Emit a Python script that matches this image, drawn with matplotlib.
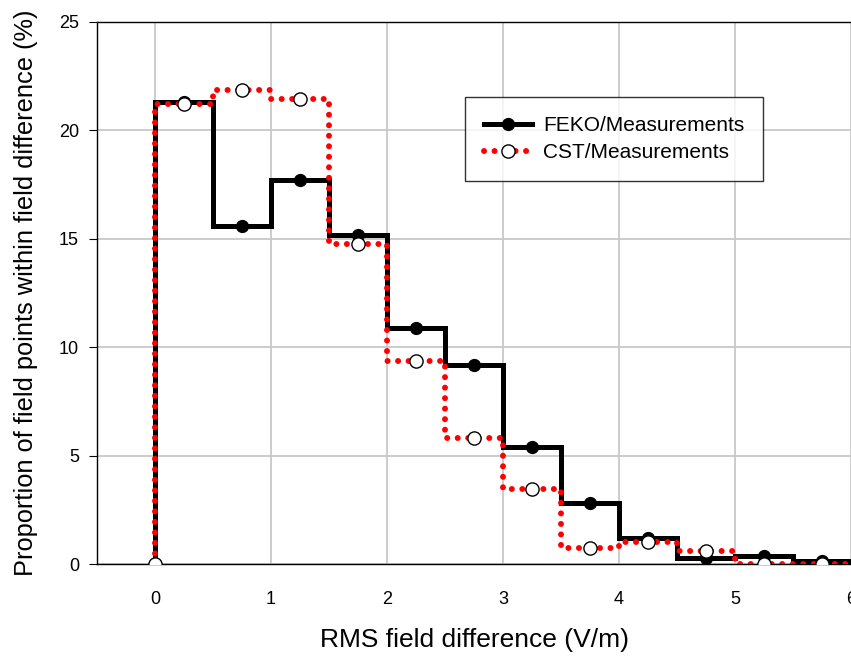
import numpy as np
import matplotlib
matplotlib.use("Agg")
import matplotlib.pyplot as plt

# bin edges (V/m) and proportion of points per bin (%)
edges = np.arange(0, 6.01, 0.5)
feko = [21.3, 15.6, 17.7, 15.2, 10.9, 9.2, 5.4, 2.8, 1.2, 0.28, 0.37, 0.14]
cst = [21.2, 21.85, 21.45, 14.75, 9.35, 5.8, 3.45, 0.75, 1.0, 0.62, 0.03, 0.03]

plt.rcParams["font.family"] = "Liberation Sans"


def step_xy(values):
    x = np.concatenate([[0.0], edges])
    y = np.concatenate([[0.0], values, [values[-1]]])
    return x, y


def marker_xy(values):
    centers = (edges[:-1] + edges[1:]) / 2
    return np.concatenate([[0.0], centers]), np.concatenate([[0.0], values])


fig = plt.figure(figsize=(8.51, 6.56), dpi=100)
ax = fig.add_axes([0.114, 0.140, 0.886, 0.8265])

x, y = step_xy(feko)
ax.plot(x, y, drawstyle="steps-post", color="black", linewidth=3.6,
        solid_joinstyle="miter", zorder=3)
mx, my = marker_xy(feko)
ax.plot(mx, my, linestyle="none", marker="o", markersize=8.5,
        color="black", zorder=4)

x, y = step_xy(cst)
ax.plot(x, y, drawstyle="steps-post", color="red", linewidth=4.3,
        linestyle=(0, (0.01, 1.75)), dash_capstyle="round", zorder=5)
mx, my = marker_xy(cst)
ax.plot(mx, my, linestyle="none", marker="o", markersize=9.5,
        markerfacecolor="white", markeredgecolor="black",
        markeredgewidth=1.0, zorder=6)

# legend proxies
h1, = ax.plot([], [], color="black", linewidth=3.6, marker="o", markersize=8.5)
h2, = ax.plot([], [], color="red", linewidth=4.3, linestyle=(0, (0.01, 1.75)),
              dash_capstyle="round", marker="o", markersize=9.5,
              markerfacecolor="white", markeredgecolor="black",
              markeredgewidth=1.0)
leg = ax.legend([h1, h2], ["FEKO/Measurements", "CST/Measurements"],
                loc="upper left", bbox_to_anchor=(0.488, 0.861),
                fontsize=15, frameon=True, fancybox=False,
                handlelength=2.3, borderpad=0.9, labelspacing=0.4,
                handletextpad=0.55, borderaxespad=0)
leg.get_frame().set_edgecolor("black")
leg.get_frame().set_linewidth(1.0)

ax.set_xlim(-0.5, 6)
ax.set_ylim(0, 25)
ax.set_xticks(np.arange(0, 7, 1))
ax.set_yticks(np.arange(0, 26, 5))
ax.grid(True, color="#c8c8c8", linewidth=1.3)
ax.set_axisbelow(True)

ax.spines["right"].set_visible(False)
for s in ["left", "top", "bottom"]:
    ax.spines[s].set_linewidth(1.0)
    ax.spines[s].set_color("black")

ax.tick_params(axis="x", length=0, pad=19, labelsize=13)
ax.tick_params(axis="y", direction="out", length=6, pad=7, labelsize=13)

ax.set_xlabel("RMS field difference (V/m)", fontsize=19, labelpad=15)
ax.set_ylabel("Proportion of field points within field difference (%)",
              fontsize=18.3, labelpad=15)

fig.savefig("out.png", dpi=100)
